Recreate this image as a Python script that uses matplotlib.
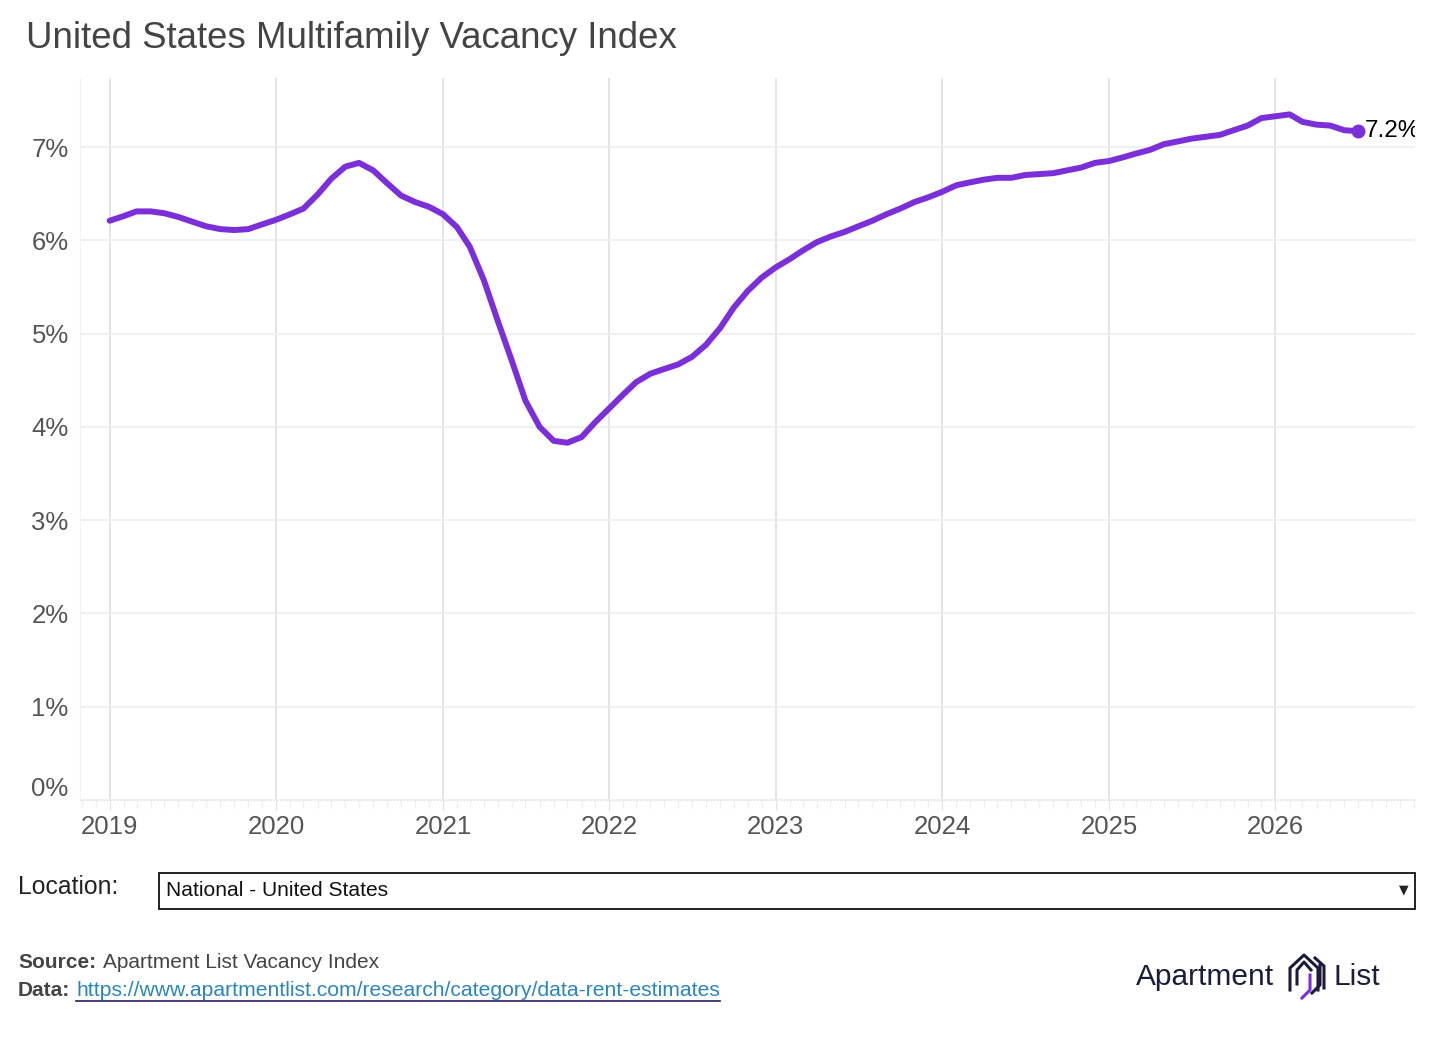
import matplotlib
matplotlib.use("Agg")
import matplotlib.pyplot as plt
import matplotlib.dates as mdates
import matplotlib.transforms as mtrans
import pandas as pd
import numpy as np

plt.rcParams['font.family'] = ['Liberation Sans', 'DejaVu Sans']

start_month = "2019-01-01"
vacancy = [
    6.21, 6.26, 6.31, 6.31, 6.29, 6.25, 6.20, 6.15, 6.12, 6.11, 6.12, 6.17,   # 2019
    6.22, 6.28, 6.34, 6.49, 6.66, 6.79, 6.83, 6.75, 6.61, 6.48, 6.41, 6.36,   # 2020
    6.28, 6.14, 5.93, 5.57, 5.14, 4.71, 4.28, 4.00, 3.85, 3.83, 3.89, 4.05,   # 2021
    4.20, 4.35, 4.48, 4.57, 4.62, 4.67, 4.75, 4.88, 5.06, 5.28, 5.46, 5.60,   # 2022
    5.71, 5.80, 5.89, 5.98, 6.04, 6.09, 6.15, 6.21, 6.28, 6.34, 6.41, 6.46,   # 2023
    6.52, 6.59, 6.62, 6.65, 6.67, 6.67, 6.70, 6.71, 6.72, 6.75, 6.78, 6.83,   # 2024
    6.85, 6.89, 6.93, 6.97, 7.03, 7.06, 7.09, 7.11, 7.13, 7.18, 7.23, 7.31,   # 2025
    7.33, 7.35, 7.27, 7.24, 7.23, 7.18, 7.17,                                 # 2026
]
end_label = "7.2%"
year_ticks = ["2019", "2020", "2021", "2022", "2023", "2024", "2025", "2026"]
y_ticks = [0, 1, 2, 3, 4, 5, 6, 7]
y_tick_labels = ["0%", "1%", "2%", "3%", "4%", "5%", "6%", "7%"]

dates = pd.date_range(start_month, periods=len(vacancy), freq="MS")

fig = plt.figure(figsize=(14.56, 10.38), dpi=100)
ax = fig.add_axes([80/1456, 1-800/1038, (1415-80)/1456, (800-78)/1038])

line_color = "#7b2fd8"
ax.plot(dates, vacancy, color=line_color, lw=4.3, solid_capstyle="round", solid_joinstyle="round", zorder=3)
ax.plot(dates[-1:], vacancy[-1:], "o", color=line_color, ms=9, zorder=4)
t = ax.text(dates[-1] + pd.Timedelta(days=14), vacancy[-1], end_label, fontsize=17.5,
            color="black", va="center", ha="left", zorder=5)
t.set_clip_on(True)

ax.set_xlim(pd.Timestamp("2018-10-28"), pd.Timestamp("2026-11-03"))
ax.set_ylim(0, 7.74)

ax.set_xticks([pd.Timestamp(f"{y}-01-01") for y in year_ticks])
ax.set_xticklabels(year_ticks)
ax.xaxis.set_minor_locator(mdates.MonthLocator())
ax.set_yticks(y_ticks)
ax.set_yticklabels(y_tick_labels)

ax.tick_params(axis="x", which="major", length=7, color="#e0e0e0", labelsize=18.5, labelcolor="#555555", pad=4)
ax.tick_params(axis="x", which="minor", length=6, color="#f0f0f0", width=1)
ax.tick_params(axis="y", length=0, labelsize=18.5, labelcolor="#555555", pad=11)

# shift 0% label up like the reference
lbl0 = ax.get_yticklabels()[0]
lbl0.set_transform(lbl0.get_transform() + mtrans.ScaledTranslation(0, 14/100, fig.dpi_scale_trans))
for lb in ax.get_yticklabels():
    lb.set_transform(lb.get_transform() + mtrans.ScaledTranslation(4/100, 0, fig.dpi_scale_trans))

ax.grid(axis="x", color="#e2e2e2", lw=1.3)
ax.grid(axis="y", color="#efefef", lw=1.3)
for s in ["top", "right"]:
    ax.spines[s].set_visible(False)
ax.spines["left"].set_color("#f2f2f2")
ax.spines["bottom"].set_color("#e6e6e6")
ax.spines["bottom"].set_linestyle((0, (1, 2)))

# Title
fig.text(26/1456, 1-39/1038, "United States Multifamily Vacancy Index", fontsize=26.4,
         color="#444444", va="center", ha="left")

# Location selector
fig.text(18/1456, 1-887/1038, "Location:", fontsize=17.8, color="#222222", va="center", ha="left")
box = plt.Rectangle((159/1456, 1-909/1038), (1415-159)/1456, 36/1038, transform=fig.transFigure,
                    fill=False, edgecolor="#111111", lw=1.3)
fig.add_artist(box)
fig.text(166/1456, 1-890/1038, "National - United States", fontsize=15.1, color="#111111", va="center", ha="left")
fig.text(1404/1456, 1-890/1038, "\u25BC", fontsize=9, color="#222222", va="center", ha="center",
         family=["DejaVu Sans"])

# Source / data lines
src_y = 1-963/1038
dat_y = 1-990/1038
fig.text(18/1456, src_y, "Source:", fontsize=15, weight="bold", color="#444444", va="center", ha="left")
fig.text(103/1456, src_y, "Apartment List Vacancy Index", fontsize=15, color="#444444", va="center", ha="left")
fig.text(18/1456, dat_y, "Data:", fontsize=15, weight="bold", color="#444444", va="center", ha="left")
url = fig.text(76/1456, dat_y, "https://www.apartmentlist.com/research/category/data-rent-estimates",
               fontsize=15.2, color="#2a86b8", va="center", ha="left")
fig.canvas.draw()
bb = url.get_window_extent()
fig.add_artist(plt.Line2D([bb.x0/1456, bb.x1/1456], [1-1001/1038, 1-1001/1038], transform=fig.transFigure,
                          color="#2a1a5a", lw=1.2))

# Logo
fig.text(1136/1456, 1-977/1038, "Apartment", fontsize=21.5, color="#1e1b3a", va="center", ha="left")
fig.text(1333/1456, 1-977/1038, "List", fontsize=21.5, color="#1e1b3a", va="center", ha="left")
def fx(px): return px/1456
def fy(py): return 1-py/1038
icon_lines = [
    ([1290, 1290, 1304, 1318, 1318], [990, 968, 955, 968, 990], "#1e1b3a"),
    ([1297, 1297, 1304, 1311], [984, 970, 962, 970], "#1e1b3a"),
    ([1302, 1310, 1310], [998, 990, 975], line_color),
    ([1312, 1320, 1320], [993, 985, 965], "#1e1b3a"),
    ([1315, 1324, 1324], [958, 966, 988], "#1e1b3a"),
]
for xs, ys, c in icon_lines:
    fig.add_artist(plt.Line2D([fx(v) for v in xs], [fy(v) for v in ys], transform=fig.transFigure,
                              color=c, lw=2.2))

fig.savefig("out.png", dpi=100, facecolor="white")
